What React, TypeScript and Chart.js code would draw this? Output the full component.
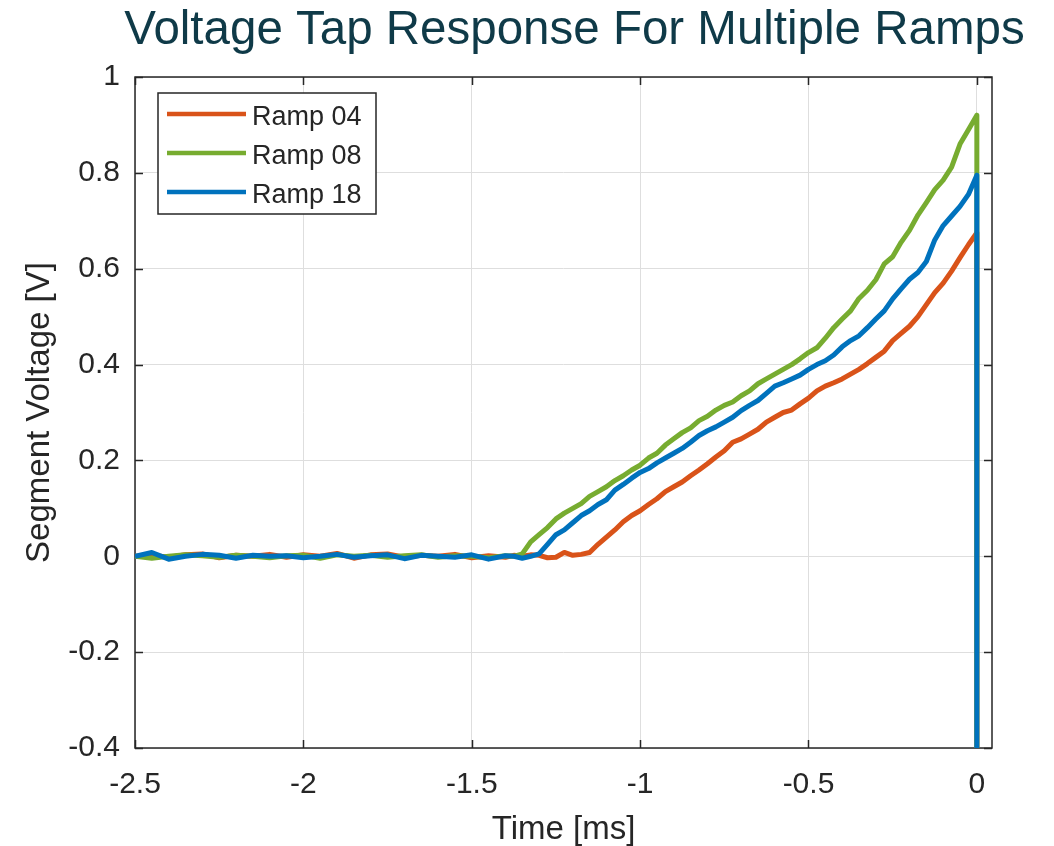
import React, { useEffect, useRef } from "react";
import { Chart, registerables } from "chart.js";

Chart.register(...registerables);

// ---- data ----
const TIME_MS: number[] = [
  -2.5, -2.45, -2.4, -2.35, -2.3, -2.25, -2.2, -2.15, -2.1, -2.05, -2, -1.95, -1.9, -1.85, -1.8, -1.75,
  -1.7, -1.65, -1.6, -1.55, -1.5, -1.45, -1.4,
  -1.375, -1.35, -1.325, -1.3, -1.275, -1.25, -1.225, -1.2, -1.175, -1.15, -1.125, -1.1, -1.075, -1.05,
  -1.025, -1, -0.975, -0.95, -0.925, -0.9, -0.875, -0.85, -0.825, -0.8, -0.775, -0.75, -0.725, -0.7,
  -0.675, -0.65, -0.625, -0.6, -0.575, -0.55, -0.525, -0.5, -0.475, -0.45, -0.425, -0.4, -0.375, -0.35,
  -0.325, -0.3, -0.275, -0.25, -0.225, -0.2, -0.175, -0.15, -0.125, -0.1, -0.075, -0.05, -0.025, 0,
  0,
];

const RAMP_04: number[] = [
  0, 0.002, -0.002, 0.003, 0.005, -0.003, 0.002, 0, 0.004, -0.002, 0.003, 0, 0.006, -0.004, 0.003, 0.005,
  -0.002, 0.002, 0, 0.004, -0.003, 0.001, -0.002,
  0.002, 0, 0.003, 0.002, -0.003, -0.002, 0.008, 0.002, 0.004, 0.008,
  0.025, 0.04, 0.055, 0.072, 0.085, 0.095, 0.108, 0.12, 0.135, 0.145,
  0.155, 0.168, 0.18, 0.193, 0.207, 0.22, 0.238, 0.245, 0.255, 0.265,
  0.28, 0.29, 0.3, 0.305, 0.318, 0.33, 0.345, 0.355, 0.362, 0.37,
  0.38, 0.39, 0.402, 0.415, 0.428, 0.45, 0.465, 0.48, 0.5, 0.525,
  0.55, 0.57, 0.595, 0.623, 0.65, 0.675,
  -0.4,
];

const RAMP_08: number[] = [
  0, -0.004, 0, 0.003, 0.001, -0.002, 0.002, 0, -0.003, 0.001, 0.002, -0.004, 0.003, 0, 0.002, -0.002,
  0.001, 0.003, -0.002, 0.001, 0, -0.003, 0.001,
  0, 0.005, 0.03, 0.045, 0.06, 0.078, 0.09, 0.1, 0.11, 0.125,
  0.135, 0.145, 0.158, 0.168, 0.18, 0.19, 0.205, 0.215, 0.232, 0.245,
  0.258, 0.268, 0.283, 0.292, 0.305, 0.315, 0.322, 0.335, 0.345, 0.36,
  0.37, 0.38, 0.39, 0.4, 0.412, 0.425, 0.435, 0.455, 0.477, 0.495,
  0.512, 0.538, 0.555, 0.577, 0.61, 0.625, 0.655, 0.68, 0.712, 0.738,
  0.765, 0.785, 0.812, 0.86, 0.89, 0.92,
  -0.4,
];

const RAMP_18: number[] = [
  0, 0.008, -0.006, 0, 0.004, 0.002, -0.004, 0.002, 0, 0.001, -0.003, 0, 0.004, -0.002, 0.001, 0.003,
  -0.005, 0.002, 0, -0.002, 0.003, -0.006, 0.001,
  0, -0.004, 0, 0.005, 0.025, 0.045, 0.055, 0.07, 0.085, 0.095,
  0.108, 0.118, 0.138, 0.15, 0.163, 0.175, 0.183, 0.195, 0.205, 0.215,
  0.225, 0.238, 0.252, 0.262, 0.27, 0.28, 0.29, 0.304, 0.315, 0.325,
  0.34, 0.355, 0.362, 0.37, 0.378, 0.39, 0.4, 0.408, 0.42, 0.437,
  0.45, 0.46, 0.477, 0.495, 0.512, 0.537, 0.558, 0.578, 0.592, 0.615,
  0.66, 0.69, 0.71, 0.73, 0.755, 0.795,
  -0.4,
];

const SERIES_LABELS = ["Ramp 04", "Ramp 08", "Ramp 18"];
const SERIES_COLORS = ["#D95319", "#77AC30", "#0072BD"];
const X_TICKS = [-2.5, -2, -1.5, -1, -0.5, 0];
const Y_TICKS = [-0.4, -0.2, 0, 0.2, 0.4, 0.6, 0.8, 1];
const TITLE = "Voltage Tap Response For Multiple Ramps";
const X_TITLE = "Time [ms]";
const Y_TITLE = "Segment Voltage [V]";

const FONT = '"Liberation Sans", Arial, Helvetica, sans-serif';
const INK = "#262626";

const framePlugin = {
  id: "frame",
  beforeDatasetsDraw(chart: any) {
    const { ctx, chartArea: a, scales } = chart;
    ctx.save();
    ctx.strokeStyle = INK;
    ctx.lineWidth = 1.5;
    ctx.strokeRect(a.left, a.top, a.right - a.left, a.bottom - a.top);
    const L = 8;
    ctx.beginPath();
    X_TICKS.forEach((v) => {
      const px = Math.round(scales.x.getPixelForValue(v)) + 0.5;
      ctx.moveTo(px, a.bottom);
      ctx.lineTo(px, a.bottom - L);
      ctx.moveTo(px, a.top);
      ctx.lineTo(px, a.top + L);
    });
    Y_TICKS.forEach((v) => {
      const py = Math.round(scales.y.getPixelForValue(v)) + 0.5;
      ctx.moveTo(a.left, py);
      ctx.lineTo(a.left + L, py);
      ctx.moveTo(a.right, py);
      ctx.lineTo(a.right - L, py);
    });
    ctx.stroke();
    ctx.restore();
  },
};

const titlePlugin = {
  id: "topTitle",
  afterDraw(chart: any) {
    const { ctx, chartArea: a } = chart;
    ctx.save();
    ctx.fillStyle = "#0f3a48";
    ctx.font = `47.5px ${FONT}`;
    ctx.textAlign = "center";
    ctx.textBaseline = "alphabetic";
    ctx.fillText(TITLE, (a.left + a.right) / 2 + 11, 44);
    ctx.restore();
  },
};

const legendPlugin = {
  id: "boxLegend",
  afterDraw(chart: any) {
    const { ctx, chartArea: a } = chart;
    const x0 = a.left + 23;
    const y0 = a.top + 16;
    const w = 218;
    const h = 121;
    ctx.save();
    ctx.fillStyle = "#ffffff";
    ctx.fillRect(x0, y0, w, h);
    ctx.strokeStyle = INK;
    ctx.lineWidth = 1.5;
    ctx.strokeRect(x0, y0, w, h);
    ctx.font = `27px ${FONT}`;
    ctx.textBaseline = "middle";
    ctx.textAlign = "left";
    chart.data.datasets.forEach((ds: any, i: number) => {
      const y = y0 + 21 + i * 39;
      ctx.strokeStyle = ds.borderColor;
      ctx.lineWidth = 4.5;
      ctx.beginPath();
      ctx.moveTo(x0 + 9, y);
      ctx.lineTo(x0 + 88, y);
      ctx.stroke();
      ctx.fillStyle = INK;
      ctx.fillText(ds.label, x0 + 94, y + 4);
    });
    ctx.restore();
  },
};

export default function App() {
  const canvasRef = useRef<HTMLCanvasElement | null>(null);

  useEffect(() => {
    if (!canvasRef.current) return;
    const series = [RAMP_04, RAMP_08, RAMP_18];
    const chart = new Chart(canvasRef.current, {
      type: "line",
      data: {
        datasets: series.map((vals, i) => ({
          label: SERIES_LABELS[i],
          data: TIME_MS.map((t, k) => ({ x: t, y: vals[k] })),
          borderColor: SERIES_COLORS[i],
          backgroundColor: SERIES_COLORS[i],
          borderWidth: 5,
          borderJoinStyle: "round",
          pointRadius: 0,
          tension: 0,
          fill: false,
          order: series.length - i,
        })),
      },
      options: {
        animation: false,
        responsive: false,
        maintainAspectRatio: false,
        layout: { padding: { top: 77, right: 62, left: 0, bottom: 0 } },
        plugins: {
          legend: { display: false },
          title: { display: false },
          tooltip: { enabled: false },
        },
        scales: {
          x: {
            type: "linear",
            min: -2.5,
            max: 0.045,
            afterBuildTicks: (s: any) => {
              s.ticks = X_TICKS.map((v) => ({ value: v }));
            },
            afterFit: (s: any) => {
              s.height = 98;
            },
            border: { display: false },
            grid: { color: "#dedede", lineWidth: 1, drawTicks: false },
            ticks: {
              padding: 19,
              color: INK,
              font: { family: FONT, size: 30 },
              callback: (v: any) => String(v),
              maxRotation: 0,
              autoSkip: false,
            },
            title: {
              display: true,
              text: X_TITLE,
              color: INK,
              font: { family: FONT, size: 33, lineHeight: 1 },
              padding: { top: 5, bottom: 0 },
            },
          },
          y: {
            type: "linear",
            min: -0.4,
            max: 1,
            afterBuildTicks: (s: any) => {
              s.ticks = Y_TICKS.map((v) => ({ value: v }));
            },
            afterFit: (s: any) => {
              s.width = 135;
            },
            border: { display: false },
            grid: { color: "#dedede", lineWidth: 1, drawTicks: false },
            ticks: {
              padding: 15,
              color: INK,
              font: { family: FONT, size: 30 },
              callback: (v: any) => String(v),
              autoSkip: false,
            },
            title: {
              display: true,
              text: Y_TITLE,
              color: INK,
              font: { family: FONT, size: 33, lineHeight: 1 },
              padding: { top: 23, bottom: 0 },
            },
          },
        },
      },
      plugins: [framePlugin, titlePlugin, legendPlugin],
    } as any);
    return () => chart.destroy();
  }, []);

  return (
    <div style={{ position: "absolute", left: 0, top: 0, width: 1054, height: 846, background: "#ffffff" }}>
      <canvas ref={canvasRef} width={1054} height={846} style={{ display: "block" }} />
    </div>
  );
}
